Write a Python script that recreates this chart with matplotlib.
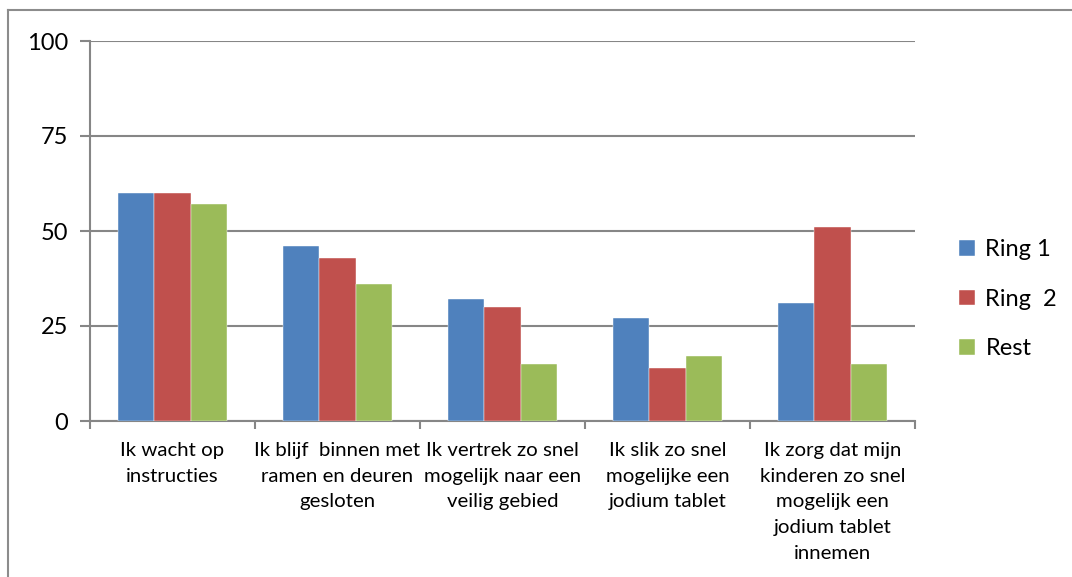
import numpy as np
import matplotlib.pyplot as plt
from matplotlib.lines import Line2D

plt.rcParams['font.family'] = ['Lato', 'DejaVu Sans']

categories = [
    "Ik wacht op\ninstructies",
    "Ik blijf  binnen met\nramen en deuren\ngesloten",
    "Ik vertrek zo snel\nmogelijk naar een\nveilig gebied",
    "Ik slik zo snel\nmogelijke een\njodium tablet",
    "Ik zorg dat mijn\nkinderen zo snel\nmogelijk een\njodium tablet\ninnemen",
]
series_names = ["Ring 1", "Ring  2", "Rest"]
ring1 = [60, 46, 32, 27, 31]
ring2 = [60, 43, 30, 14, 51]
rest = [57, 36, 15, 17, 15]
colors = ["#4F81BD", "#C0504D", "#9BBB59"]
yticks = [0, 25, 50, 75, 100]

fig = plt.figure(figsize=(10.72, 5.77), dpi=100)
ax = fig.add_axes([90 / 1072, 1 - 421 / 577, 825 / 1072, 380 / 577])

# outer chart border (only left and top visible in the reference)
border = "#8C8C8C"
fig.add_artist(Line2D([8 / 1072, 8 / 1072], [0, 1 - 10 / 577], transform=fig.transFigure,
                      color=border, lw=1.5))
fig.add_artist(Line2D([8 / 1072, 1], [1 - 10 / 577, 1 - 10 / 577], transform=fig.transFigure,
                      color=border, lw=1.5))

x = np.arange(len(categories))
w = 0.222
for i, (vals, name) in enumerate(zip([ring1, ring2, rest], series_names)):
    ax.bar(x + (i - 1) * w, vals, width=w, color=colors[i], label=name,
           edgecolor="white", linewidth=0.3, zorder=3)

grid = "#868686"
ax.set_ylim(0, 100)
ax.set_xlim(-0.5, len(categories) - 0.5)
ax.set_yticks(yticks)
ax.yaxis.grid(True, color=grid, lw=1.5, zorder=0)
ax.tick_params(axis="y", length=7, width=1.5, color=grid, labelsize=17, pad=9)

ax.set_xticks(x)
ax.set_xticklabels(categories, fontsize=14.7, linespacing=1.63)
ax.tick_params(axis="x", length=0, pad=15)
ax.set_xticks(np.arange(len(categories) + 1) - 0.5, minor=True)
ax.tick_params(axis="x", which="minor", length=6, width=1.5, color=grid)

for side in ["top", "right"]:
    ax.spines[side].set_visible(False)
for side in ["left", "bottom"]:
    ax.spines[side].set_color(grid)
    ax.spines[side].set_linewidth(1.5)

leg = fig.legend(loc="upper left", bbox_to_anchor=(950 / 1072, 1 - 230 / 577), frameon=False,
                 fontsize=17, handlelength=0.65, handleheight=0.65, handletextpad=0.45,
                 labelspacing=1.2, borderaxespad=0)

fig.savefig("out.png", dpi=100)
